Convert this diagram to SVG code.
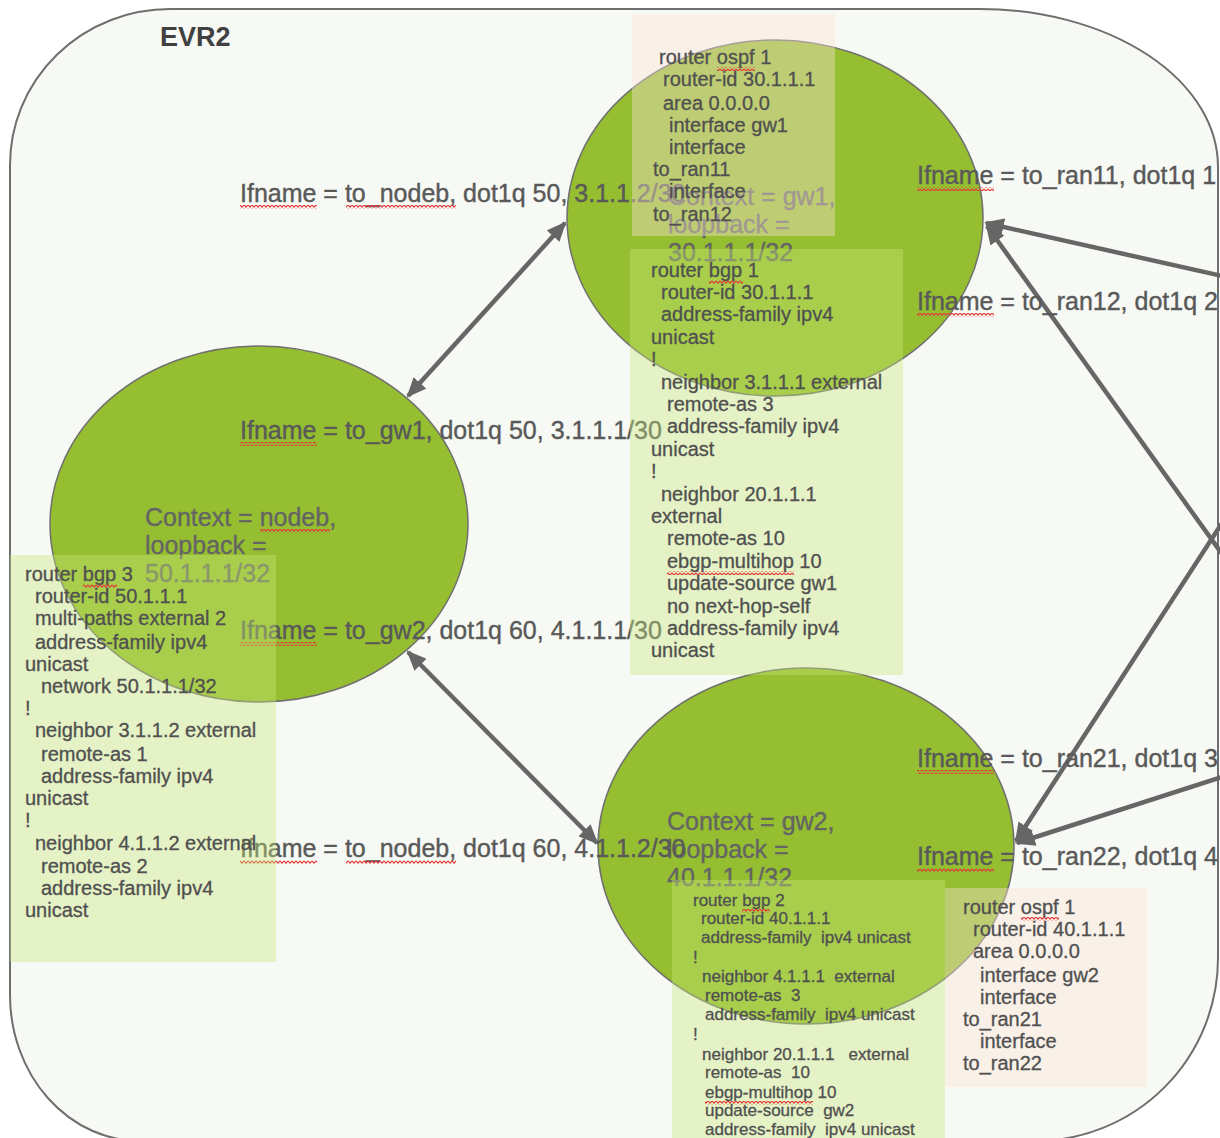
<svg xmlns="http://www.w3.org/2000/svg" width="1220" height="1138" viewBox="0 0 1220 1138">
<style>
.frame{fill:#f7f9f4;stroke:#6e6e6e;stroke-width:2}
.node{fill:#95be31;stroke:#707070;stroke-width:1.5}
.ctx{font-family:"Liberation Sans",Arial,sans-serif;font-size:25px;fill:#646464;stroke:#646464;stroke-width:0.35}
.lbl{font-family:"Liberation Sans",Arial,sans-serif;font-size:25px;fill:#595959;stroke:#595959;stroke-width:0.4}
.cfg{font-family:"Liberation Sans",Arial,sans-serif;font-size:20px;fill:#505050;stroke:#505050;stroke-width:0.3;white-space:pre}
.cfgs{font-family:"Liberation Sans",Arial,sans-serif;font-size:17px;fill:#505050;stroke:#505050;stroke-width:0.3;white-space:pre}
.title{font-family:"Liberation Sans",Arial,sans-serif;font-size:27px;font-weight:bold;fill:#404040}
.conn{stroke:#666666;stroke-width:4.5;fill:none}
.peach{fill:#fce4d6;fill-opacity:0.4}
.lgreen{fill:#c8e77a;fill-opacity:0.38}
.sq{fill:url(#sq)}
</style>
<defs>
<marker id="ah" viewBox="0 0 10 10" refX="9" refY="5" markerWidth="4.4" markerHeight="3.8" orient="auto-start-reverse" preserveAspectRatio="none">
<path d="M0 0 L10 5 L0 10 z" fill="#666666"/>
</marker>
<pattern id="sq" width="4" height="4" patternUnits="userSpaceOnUse">
<path d="M0 0.8 L2 3.2 L4 0.8" fill="none" stroke="#e03c3c" stroke-width="1.1"/>
</pattern>
</defs>

<path class="frame" d="M10 165 A160 156 0 0 1 170 9 L980 9 A238 158 0 0 1 1218 167 L1218 958 A183 183 0 0 1 1035 1141 L140 1141 A130 146 0 0 1 10 995 Z"/>
<text class="title" x="160" y="46">EVR2</text>

<g id="node-gw1">
<ellipse class="node" cx="775" cy="218" rx="208" ry="178"/>
<text class="ctx" x="668" y="205">Context = gw1,</text>
<text class="ctx" x="668" y="233">loopback =</text>
<text class="ctx" x="668" y="261">30.1.1.1/32</text>
</g>
<g id="node-nodeb">
<ellipse class="node" cx="259" cy="524" rx="209" ry="178"/>
<text class="ctx" x="145" y="526">Context = nodeb,</text>
<text class="ctx" x="145" y="554">loopback =</text>
<text class="ctx" x="145" y="582">50.1.1.1/32</text>
<rect class="sq" x="260" y="529" width="70" height="4"/>
</g>
<g id="node-gw2">
<ellipse class="node" cx="806" cy="846" rx="208" ry="178"/>
<text class="ctx" x="667" y="830">Context = gw2,</text>
<text class="ctx" x="667" y="858">loopback =</text>
<text class="ctx" x="667" y="886">40.1.1.1/32</text>
</g>

<g id="connectors">
<line class="conn" x1="408" y1="396" x2="565" y2="223" marker-start="url(#ah)" marker-end="url(#ah)"/>
<line class="conn" x1="408" y1="652" x2="597" y2="843" marker-start="url(#ah)" marker-end="url(#ah)"/>
<line class="conn" x1="1222" y1="276" x2="986" y2="223" marker-end="url(#ah)"/>
<line class="conn" x1="1222" y1="554" x2="987" y2="226" marker-end="url(#ah)"/>
<line class="conn" x1="1222" y1="523" x2="1016" y2="841" marker-end="url(#ah)"/>
<line class="conn" x1="1222" y1="777" x2="1017" y2="843" marker-end="url(#ah)"/>
</g>

<g id="connector-labels">
<text class="lbl" x="240" y="202">Ifname = to_nodeb,  dot1q 50, 3.1.1.2/30</text>
<rect class="sq" x="240" y="205" width="77" height="4"/>
<rect class="sq" x="346" y="205" width="110" height="4"/>
<text class="lbl" x="240" y="439">Ifname = to_gw1, dot1q 50, 3.1.1.1/30</text>
<rect class="sq" x="240" y="442" width="77" height="4"/>
<text class="lbl" x="240" y="639">Ifname = to_gw2, dot1q 60, 4.1.1.1/30</text>
<rect class="sq" x="240" y="642" width="77" height="4"/>
<text class="lbl" x="240" y="857">Ifname = to_nodeb,  dot1q 60, 4.1.1.2/30</text>
<rect class="sq" x="240" y="860" width="77" height="4"/>
<rect class="sq" x="346" y="860" width="110" height="4"/>
<text class="lbl" x="917" y="184">Ifname = to_ran11, dot1q 1</text>
<rect class="sq" x="917" y="187" width="77" height="4"/>
<text class="lbl" x="917" y="310">Ifname = to_ran12, dot1q 2</text>
<rect class="sq" x="917" y="313" width="77" height="4"/>
<text class="lbl" x="917" y="767">Ifname = to_ran21, dot1q 3</text>
<rect class="sq" x="917" y="770" width="77" height="4"/>
<text class="lbl" x="917" y="865">Ifname = to_ran22, dot1q 4</text>
<rect class="sq" x="917" y="868" width="77" height="4"/>
</g>

<g id="cfg-gw1-ospf">
<rect class="peach" x="632" y="14" width="203" height="222"/>
<text class="cfg" x="659" y="64">router ospf 1</text>
<rect class="sq" x="717" y="67" width="38" height="4"/>
<text class="cfg" x="663" y="86">router-id 30.1.1.1</text>
<text class="cfg" x="663" y="110">area 0.0.0.0</text>
<text class="cfg" x="669" y="132">interface gw1</text>
<text class="cfg" x="669" y="154">interface</text>
<text class="cfg" x="653" y="176">to_ran11</text>
<text class="cfg" x="669" y="198">interface</text>
<text class="cfg" x="653" y="221">to_ran12</text>
</g>

<g id="cfg-gw1-bgp">
<rect class="lgreen" x="630" y="249" width="273" height="426"/>
<text class="cfg" x="651" y="277">router bgp 1</text>
<rect class="sq" x="709" y="280" width="34" height="4"/>
<text class="cfg" x="661" y="299">router-id 30.1.1.1</text>
<text class="cfg" x="661" y="321">address-family ipv4</text>
<text class="cfg" x="651" y="344">unicast</text>
<text class="cfg" x="651" y="366">!</text>
<text class="cfg" x="661" y="389">neighbor 3.1.1.1 external</text>
<text class="cfg" x="667" y="411">remote-as 3</text>
<text class="cfg" x="667" y="433">address-family ipv4</text>
<text class="cfg" x="651" y="456">unicast</text>
<text class="cfg" x="651" y="478">!</text>
<text class="cfg" x="661" y="501">neighbor 20.1.1.1</text>
<text class="cfg" x="651" y="523">external</text>
<text class="cfg" x="667" y="545">remote-as 10</text>
<text class="cfg" x="667" y="568">ebgp-multihop 10</text>
<rect class="sq" x="667" y="571" width="127" height="4"/>
<text class="cfg" x="667" y="590">update-source gw1</text>
<text class="cfg" x="667" y="613">no next-hop-self</text>
<text class="cfg" x="667" y="635">address-family ipv4</text>
<text class="cfg" x="651" y="657">unicast</text>
</g>

<g id="cfg-nodeb-bgp">
<rect class="lgreen" x="10" y="555" width="266" height="407"/>
<text class="cfg" x="25" y="581">router bgp 3</text>
<rect class="sq" x="83" y="584" width="34" height="4"/>
<text class="cfg" x="35" y="603">router-id 50.1.1.1</text>
<text class="cfg" x="35" y="625">multi-paths external 2</text>
<text class="cfg" x="35" y="649">address-family ipv4</text>
<text class="cfg" x="25" y="671">unicast</text>
<text class="cfg" x="41" y="693">network 50.1.1.1/32</text>
<text class="cfg" x="25" y="715">!</text>
<text class="cfg" x="35" y="737">neighbor 3.1.1.2 external</text>
<text class="cfg" x="41" y="761">remote-as 1</text>
<text class="cfg" x="41" y="783">address-family ipv4</text>
<text class="cfg" x="25" y="805">unicast</text>
<text class="cfg" x="25" y="827">!</text>
<text class="cfg" x="35" y="850">neighbor 4.1.1.2 external</text>
<text class="cfg" x="41" y="873">remote-as 2</text>
<text class="cfg" x="41" y="895">address-family ipv4</text>
<text class="cfg" x="25" y="917">unicast</text>
</g>

<g id="cfg-gw2-bgp">
<rect class="lgreen" x="672" y="880" width="273" height="262"/>
<text class="cfgs" x="693" y="906">router bgp 2</text>
<rect class="sq" x="742" y="909" width="28" height="4"/>
<text class="cfgs" x="701" y="924">router-id 40.1.1.1</text>
<text class="cfgs" x="701" y="943">address-family  ipv4 unicast</text>
<text class="cfgs" x="693" y="963">!</text>
<text class="cfgs" x="702" y="982">neighbor 4.1.1.1  external</text>
<text class="cfgs" x="705" y="1001">remote-as  3</text>
<text class="cfgs" x="705" y="1020">address-family  ipv4 unicast</text>
<text class="cfgs" x="693" y="1040">!</text>
<text class="cfgs" x="702" y="1060">neighbor 20.1.1.1   external</text>
<text class="cfgs" x="705" y="1078">remote-as  10</text>
<text class="cfgs" x="705" y="1098">ebgp-multihop 10</text>
<rect class="sq" x="705" y="1101" width="108" height="4"/>
<text class="cfgs" x="705" y="1116">update-source  gw2</text>
<text class="cfgs" x="705" y="1135">address-family  ipv4 unicast</text>
</g>

<g id="cfg-gw2-ospf">
<rect class="peach" x="945" y="888" width="202" height="199"/>
<text class="cfg" x="963" y="914">router ospf 1</text>
<rect class="sq" x="1021" y="917" width="38" height="4"/>
<text class="cfg" x="973" y="936">router-id 40.1.1.1</text>
<text class="cfg" x="973" y="958">area 0.0.0.0</text>
<text class="cfg" x="980" y="982">interface gw2</text>
<text class="cfg" x="980" y="1004">interface</text>
<text class="cfg" x="963" y="1026">to_ran21</text>
<text class="cfg" x="980" y="1048">interface</text>
<text class="cfg" x="963" y="1070">to_ran22</text>
</g>
</svg>
